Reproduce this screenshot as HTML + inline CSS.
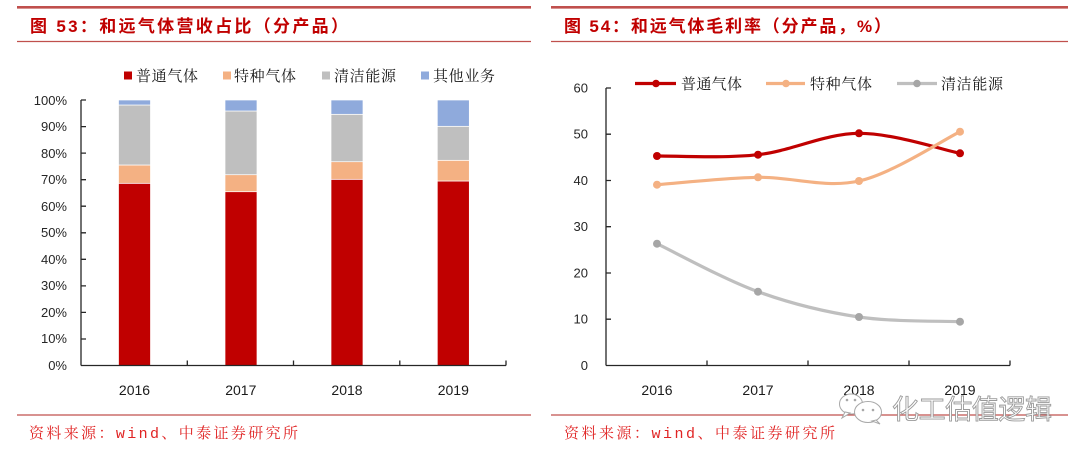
<!DOCTYPE html>
<html>
<head>
<meta charset="utf-8">
<style>
html,body{margin:0;padding:0;background:#fff;}
svg{display:block;}
.t{font-family:"Liberation Sans","Noto Sans CJK SC",sans-serif;font-weight:700;font-size:17px;fill:#C00000;}
.lg{font-family:"Liberation Serif","Noto Serif CJK SC",serif;font-size:15px;fill:#1a1a1a;}
.src{font-family:"Liberation Mono","Noto Serif CJK SC",serif;font-size:15px;fill:#E02424;}
.ax{font-family:"Liberation Sans",sans-serif;font-size:13px;fill:#262626;}
.yr{font-family:"Liberation Sans",sans-serif;font-size:14px;fill:#1a1a1a;}
.wm{font-family:"Liberation Sans","Noto Sans CJK SC",sans-serif;font-size:27px;fill:#fff;stroke:#9a9a9a;stroke-width:0.9;}
</style>
</head>
<body>
<svg width="1080" height="456" viewBox="0 0 1080 456" xmlns="http://www.w3.org/2000/svg">
<!-- ===== Left panel frame ===== -->
<line x1="17" y1="7.3" x2="531" y2="7.3" stroke="#C0504D" stroke-width="2.6"/>
<text class="t" x="30" y="32" textLength="318" lengthAdjust="spacing">图 53：和远气体营收占比（分产品）</text>
<line x1="17" y1="41.5" x2="531" y2="41.5" stroke="#C0504D" stroke-width="1.3"/>
<line x1="17" y1="415" x2="531" y2="415" stroke="#C0504D" stroke-width="1.2"/>
<text class="src" x="29" y="438" textLength="269" lengthAdjust="spacing">资料来源：wind、中泰证券研究所</text>

<!-- Left legend -->
<rect x="124" y="71.5" width="8" height="8" fill="#C00000"/>
<text class="lg" x="136" y="81" textLength="62" lengthAdjust="spacing">普通气体</text>
<rect x="223" y="71.5" width="8" height="8" fill="#F4B183"/>
<text class="lg" x="234" y="81" textLength="62" lengthAdjust="spacing">特种气体</text>
<rect x="322" y="71.5" width="8" height="8" fill="#BFBFBF"/>
<text class="lg" x="334" y="81" textLength="62" lengthAdjust="spacing">清洁能源</text>
<rect x="421" y="71.5" width="8" height="8" fill="#8FAADC"/>
<text class="lg" x="433" y="81" textLength="62" lengthAdjust="spacing">其他业务</text>

<!-- Left y labels -->
<g class="ax" text-anchor="end">
<text x="67" y="105">100%</text>
<text x="67" y="131">90%</text>
<text x="67" y="158">80%</text>
<text x="67" y="184">70%</text>
<text x="67" y="211">60%</text>
<text x="67" y="237">50%</text>
<text x="67" y="264">40%</text>
<text x="67" y="290">30%</text>
<text x="67" y="317">20%</text>
<text x="67" y="343">10%</text>
<text x="67" y="370">0%</text>
</g>

<!-- Bars -->
<g stroke="#ffffff" stroke-width="0.7">
<!-- 2016 -->
<rect x="118.5" y="183.3" width="32" height="182.2" fill="#C00000"/>
<rect x="118.5" y="165" width="32" height="18.3" fill="#F4B183"/>
<rect x="118.5" y="105" width="32" height="60" fill="#BFBFBF"/>
<rect x="118.5" y="100" width="32" height="5" fill="#8FAADC"/>
<!-- 2017 -->
<rect x="225" y="191.7" width="32" height="173.8" fill="#C00000"/>
<rect x="225" y="174.7" width="32" height="17" fill="#F4B183"/>
<rect x="225" y="111" width="32" height="63.7" fill="#BFBFBF"/>
<rect x="225" y="100" width="32" height="11" fill="#8FAADC"/>
<!-- 2018 -->
<rect x="331" y="179.3" width="32" height="186.2" fill="#C00000"/>
<rect x="331" y="161.7" width="32" height="17.6" fill="#F4B183"/>
<rect x="331" y="114.3" width="32" height="47.4" fill="#BFBFBF"/>
<rect x="331" y="100" width="32" height="14.3" fill="#8FAADC"/>
<!-- 2019 -->
<rect x="437.3" y="181" width="32" height="184.5" fill="#C00000"/>
<rect x="437.3" y="160.3" width="32" height="20.7" fill="#F4B183"/>
<rect x="437.3" y="126.3" width="32" height="34" fill="#BFBFBF"/>
<rect x="437.3" y="100" width="32" height="26.3" fill="#8FAADC"/>
</g>

<!-- Left axes -->
<g stroke="#262626" stroke-width="1.3" fill="none">
<line x1="81" y1="100" x2="81" y2="365.5"/>
<line x1="81" y1="365.5" x2="506" y2="365.5"/>
<path d="M81 100H86M81 126.6H86M81 153.1H86M81 179.7H86M81 206.2H86M81 232.8H86M81 259.3H86M81 285.9H86M81 312.4H86M81 339H86"/>
<path d="M187.3 365.5V360.5M293.5 365.5V360.5M399.8 365.5V360.5M506 365.5V360.5"/>
</g>
<g class="yr" text-anchor="middle">
<text x="134.5" y="395">2016</text>
<text x="240.8" y="395">2017</text>
<text x="347" y="395">2018</text>
<text x="453.3" y="395">2019</text>
</g>

<!-- ===== Right panel frame ===== -->
<line x1="551" y1="7.3" x2="1068" y2="7.3" stroke="#C0504D" stroke-width="2.6"/>
<text class="t" x="564" y="32" textLength="327" lengthAdjust="spacing">图 54：和远气体毛利率（分产品，%）</text>
<line x1="551" y1="41.5" x2="1068" y2="41.5" stroke="#C0504D" stroke-width="1.3"/>
<line x1="551" y1="415" x2="1068" y2="415" stroke="#C0504D" stroke-width="1.2"/>
<text class="src" x="564" y="438" textLength="271" lengthAdjust="spacing">资料来源：wind、中泰证券研究所</text>

<!-- Right legend -->
<line x1="635" y1="83.5" x2="676" y2="83.5" stroke="#C00000" stroke-width="3.2"/>
<circle cx="656" cy="83.5" r="3.8" fill="#C00000"/>
<text class="lg" x="681" y="89" textLength="61" lengthAdjust="spacing">普通气体</text>
<line x1="766" y1="83.5" x2="805" y2="83.5" stroke="#F4B183" stroke-width="3.2"/>
<circle cx="786" cy="83.5" r="3.8" fill="#F4B183"/>
<text class="lg" x="810" y="89" textLength="62" lengthAdjust="spacing">特种气体</text>
<line x1="897" y1="83.5" x2="937" y2="83.5" stroke="#BFBFBF" stroke-width="3.2"/>
<circle cx="917" cy="83.5" r="3.8" fill="#A6A6A6"/>
<text class="lg" x="941" y="89" textLength="62" lengthAdjust="spacing">清洁能源</text>

<!-- Right y labels -->
<g class="ax" text-anchor="end">
<text x="588" y="92.5">60</text>
<text x="588" y="138.7">50</text>
<text x="588" y="185">40</text>
<text x="588" y="231.2">30</text>
<text x="588" y="277.5">20</text>
<text x="588" y="323.7">10</text>
<text x="588" y="370">0</text>
</g>

<!-- Right axes -->
<g stroke="#262626" stroke-width="1.3" fill="none">
<line x1="606" y1="88" x2="606" y2="365.5"/>
<line x1="606" y1="365.5" x2="1010" y2="365.5"/>
<path d="M606 88H611M606 134.2H611M606 180.5H611M606 226.7H611M606 273H611M606 319.2H611"/>
<path d="M707 365.5V360.5M808 365.5V360.5M909 365.5V360.5M1010 365.5V360.5"/>
</g>

<!-- Series -->
<path d="M657 156 C673.8 155.8 724.3 158.5 758 154.7 C791.7 150.9 825.3 133.5 859 133.3 C892.7 133.1 943.2 150 960 153.3" fill="none" stroke="#C00000" stroke-width="3.2" stroke-linecap="round"/>
<path d="M657 184.7 C673.8 183.5 724.3 177.9 758 177.3 C791.7 176.7 825.3 188.6 859 181 C892.7 173.4 943.2 139.9 960 131.7" fill="none" stroke="#F4B183" stroke-width="3.2" stroke-linecap="round"/>
<path d="M657 243.7 C673.8 251.7 724.3 279.5 758 291.7 C791.7 303.9 825.3 312 859 317 C892.7 322 943.2 320.9 960 321.7" fill="none" stroke="#BFBFBF" stroke-width="3.2" stroke-linecap="round"/>
<g fill="#C00000">
<circle cx="657" cy="156" r="4"/><circle cx="758" cy="154.7" r="4"/><circle cx="859" cy="133.3" r="4"/><circle cx="960" cy="153.3" r="4"/>
</g>
<g fill="#F4B183">
<circle cx="657" cy="184.7" r="4"/><circle cx="758" cy="177.3" r="4"/><circle cx="859" cy="181" r="4"/><circle cx="960" cy="131.7" r="4"/>
</g>
<g fill="#A6A6A6">
<circle cx="657" cy="243.7" r="4"/><circle cx="758" cy="291.7" r="4"/><circle cx="859" cy="317" r="4"/><circle cx="960" cy="321.7" r="4"/>
</g>

<g class="yr" text-anchor="middle">
<text x="657" y="395">2016</text>
<text x="758" y="395">2017</text>
<text x="859" y="395">2018</text>
<text x="960" y="395">2019</text>
</g>

<!-- Watermark -->
<g fill="#ffffff" stroke="#a8a8a8" stroke-width="1">
<ellipse cx="851" cy="404" rx="11.5" ry="10"/>
<path d="M845 412 L842 418 L850 413 Z"/>
<ellipse cx="868" cy="412" rx="13.5" ry="10.5"/>
<path d="M876 420 L880 424 L872 421 Z"/>
</g>
<g fill="#a8a8a8">
<circle cx="847" cy="400" r="1.3"/><circle cx="855" cy="400" r="1.3"/>
<circle cx="863" cy="410" r="1.3"/><circle cx="873" cy="410" r="1.3"/>
</g>
<text class="wm" x="892" y="419" textLength="160" lengthAdjust="spacing">化工估值逻辑</text>
</svg>
</body>
</html>
